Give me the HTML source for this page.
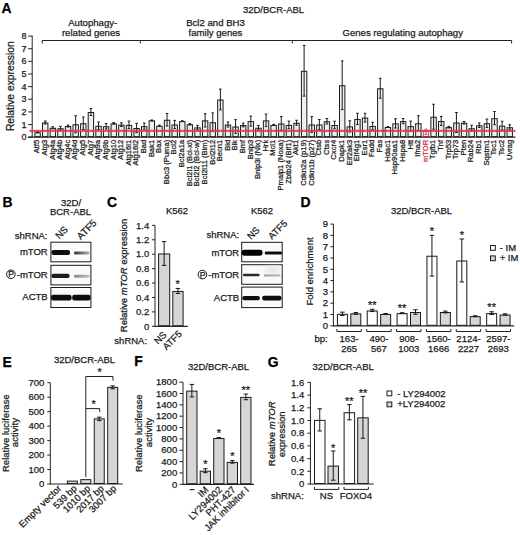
<!DOCTYPE html>
<html><head><meta charset="utf-8"><style>
html,body{margin:0;padding:0;background:#fff;}
svg{display:block;}
text{font-family:"Liberation Sans", sans-serif;stroke:currentColor;stroke-width:0.25px;paint-order:stroke;}
</style></head><body>
<svg width="520" height="535" viewBox="0 0 520 535" font-family='"Liberation Sans", sans-serif'>
<defs><linearGradient id="g0" x1="0" x2="1" y1="0" y2="0"><stop offset="0" stop-color="#333"/><stop offset="1" stop-color="#b0b0b0"/></linearGradient><linearGradient id="g1" x1="0" x2="1" y1="0" y2="0"><stop offset="0" stop-color="#888"/><stop offset="1" stop-color="#c0c0c0"/></linearGradient><linearGradient id="g2" x1="0" x2="1" y1="0" y2="0"><stop offset="0" stop-color="#999"/><stop offset="1" stop-color="#b5b5b5"/></linearGradient><filter id="bl" x="-20%" y="-100%" width="140%" height="300%"><feGaussianBlur stdDeviation="0.5"/></filter><filter id="bl2" x="-50%" y="-100%" width="200%" height="300%"><feGaussianBlur stdDeviation="2"/></filter></defs>
<rect width="520" height="535" fill="#fff"/>
<text x="1.6" y="12.8" font-size="13.9" font-weight="bold" fill="#000" color="#000">A</text>
<text x="273.5" y="13" font-size="9.5" text-anchor="middle" fill="#1a1a1a" color="#1a1a1a">32D/BCR-ABL</text>
<text x="92.7" y="25.8" font-size="9.6" text-anchor="middle" fill="#1a1a1a" color="#1a1a1a">Autophagy-</text>
<text x="91" y="35.8" font-size="9.6" text-anchor="middle" fill="#1a1a1a" color="#1a1a1a">related genes</text>
<text x="215.5" y="25.8" font-size="9.6" text-anchor="middle" fill="#1a1a1a" color="#1a1a1a">Bcl2 and BH3</text>
<text x="215.5" y="35.8" font-size="9.6" text-anchor="middle" fill="#1a1a1a" color="#1a1a1a">family genes</text>
<text x="402.7" y="35.8" font-size="9.6" text-anchor="middle" fill="#1a1a1a" color="#1a1a1a">Genes regulating autophagy</text>
<polyline points="42.2,43.5 42.2,40.5 140.3,40.5 140.3,43.5" fill="none" stroke="#222" stroke-width="1"/>
<polyline points="140.3,40.5 292.3,40.5 292.3,43.5" fill="none" stroke="#222" stroke-width="1"/>
<polyline points="292.3,40.5 511.6,40.5 511.6,43.5" fill="none" stroke="#222" stroke-width="1"/>
<line x1="32.2" y1="35.6" x2="32.2" y2="137.7" stroke="#222" stroke-width="1"/>
<line x1="28.2" y1="137.2" x2="32.2" y2="137.2" stroke="#222" stroke-width="1"/>
<text x="26.4" y="140.3" font-size="9" text-anchor="end" fill="#1a1a1a" color="#1a1a1a">0</text>
<line x1="28.2" y1="124.56" x2="32.2" y2="124.56" stroke="#222" stroke-width="1"/>
<text x="26.4" y="127.66" font-size="9" text-anchor="end" fill="#1a1a1a" color="#1a1a1a">1</text>
<line x1="28.2" y1="111.92" x2="32.2" y2="111.92" stroke="#222" stroke-width="1"/>
<text x="26.4" y="115.02" font-size="9" text-anchor="end" fill="#1a1a1a" color="#1a1a1a">2</text>
<line x1="28.2" y1="99.28" x2="32.2" y2="99.28" stroke="#222" stroke-width="1"/>
<text x="26.4" y="102.38" font-size="9" text-anchor="end" fill="#1a1a1a" color="#1a1a1a">3</text>
<line x1="28.2" y1="86.64" x2="32.2" y2="86.64" stroke="#222" stroke-width="1"/>
<text x="26.4" y="89.74" font-size="9" text-anchor="end" fill="#1a1a1a" color="#1a1a1a">4</text>
<line x1="28.2" y1="74" x2="32.2" y2="74" stroke="#222" stroke-width="1"/>
<text x="26.4" y="77.1" font-size="9" text-anchor="end" fill="#1a1a1a" color="#1a1a1a">5</text>
<line x1="28.2" y1="61.36" x2="32.2" y2="61.36" stroke="#222" stroke-width="1"/>
<text x="26.4" y="64.46" font-size="9" text-anchor="end" fill="#1a1a1a" color="#1a1a1a">6</text>
<line x1="28.2" y1="48.72" x2="32.2" y2="48.72" stroke="#222" stroke-width="1"/>
<text x="26.4" y="51.82" font-size="9" text-anchor="end" fill="#1a1a1a" color="#1a1a1a">7</text>
<line x1="28.2" y1="36.08" x2="32.2" y2="36.08" stroke="#222" stroke-width="1"/>
<text x="26.4" y="39.18" font-size="9" text-anchor="end" fill="#1a1a1a" color="#1a1a1a">8</text>
<text x="14" y="86.2" font-size="10.3" text-anchor="middle" transform="rotate(-90 14 86.2)" fill="#1a1a1a" color="#1a1a1a">Relative expression</text>
<rect x="34.9" y="132.75" width="5.4" height="3.95" fill="#efefef" stroke="#1a1a1a" stroke-width="1"/>
<line x1="37.6" y1="131.75" x2="37.6" y2="132.75" stroke="#1a1a1a" stroke-width="1"/>
<line x1="36.3" y1="131.75" x2="38.9" y2="131.75" stroke="#1a1a1a" stroke-width="1"/>
<line x1="36.3" y1="132.75" x2="38.9" y2="132.75" stroke="#1a1a1a" stroke-width="1"/>
<text x="39.4" y="139.8" font-size="7.6" text-anchor="end" transform="rotate(-90 39.4 139.8)" fill="#1a1a1a" color="#1a1a1a">Atf5</text>
<rect x="42.52" y="123" width="5.4" height="13.7" fill="#efefef" stroke="#1a1a1a" stroke-width="1"/>
<line x1="45.22" y1="121" x2="45.22" y2="124" stroke="#1a1a1a" stroke-width="1"/>
<line x1="43.92" y1="121" x2="46.52" y2="121" stroke="#1a1a1a" stroke-width="1"/>
<line x1="43.92" y1="124" x2="46.52" y2="124" stroke="#1a1a1a" stroke-width="1"/>
<text x="47.02" y="139.8" font-size="7.6" text-anchor="end" transform="rotate(-90 47.02 139.8)" fill="#1a1a1a" color="#1a1a1a">Atg3</text>
<rect x="50.13" y="128.25" width="5.4" height="8.45" fill="#efefef" stroke="#1a1a1a" stroke-width="1"/>
<line x1="52.83" y1="126.75" x2="52.83" y2="128.75" stroke="#1a1a1a" stroke-width="1"/>
<line x1="51.53" y1="126.75" x2="54.13" y2="126.75" stroke="#1a1a1a" stroke-width="1"/>
<line x1="51.53" y1="128.75" x2="54.13" y2="128.75" stroke="#1a1a1a" stroke-width="1"/>
<text x="54.63" y="139.8" font-size="7.6" text-anchor="end" transform="rotate(-90 54.63 139.8)" fill="#1a1a1a" color="#1a1a1a">Atg4a</text>
<rect x="57.74" y="128.75" width="5.4" height="7.95" fill="#efefef" stroke="#1a1a1a" stroke-width="1"/>
<line x1="60.45" y1="126.38" x2="60.45" y2="130.12" stroke="#1a1a1a" stroke-width="1"/>
<line x1="59.15" y1="126.38" x2="61.74" y2="126.38" stroke="#1a1a1a" stroke-width="1"/>
<line x1="59.15" y1="130.12" x2="61.74" y2="130.12" stroke="#1a1a1a" stroke-width="1"/>
<text x="62.24" y="139.8" font-size="7.6" text-anchor="end" transform="rotate(-90 62.24 139.8)" fill="#1a1a1a" color="#1a1a1a">Atg4b</text>
<rect x="65.36" y="126.5" width="5.4" height="10.2" fill="#efefef" stroke="#1a1a1a" stroke-width="1"/>
<line x1="68.06" y1="125" x2="68.06" y2="127" stroke="#1a1a1a" stroke-width="1"/>
<line x1="66.76" y1="125" x2="69.36" y2="125" stroke="#1a1a1a" stroke-width="1"/>
<line x1="66.76" y1="127" x2="69.36" y2="127" stroke="#1a1a1a" stroke-width="1"/>
<text x="69.86" y="139.8" font-size="7.6" text-anchor="end" transform="rotate(-90 69.86 139.8)" fill="#1a1a1a" color="#1a1a1a">Atg4c</text>
<rect x="72.97" y="124.75" width="5.4" height="11.95" fill="#efefef" stroke="#1a1a1a" stroke-width="1"/>
<line x1="75.67" y1="115.75" x2="75.67" y2="132.75" stroke="#1a1a1a" stroke-width="1"/>
<line x1="74.38" y1="115.75" x2="76.97" y2="115.75" stroke="#1a1a1a" stroke-width="1"/>
<line x1="74.38" y1="132.75" x2="76.97" y2="132.75" stroke="#1a1a1a" stroke-width="1"/>
<text x="77.47" y="139.8" font-size="7.6" text-anchor="end" transform="rotate(-90 77.47 139.8)" fill="#1a1a1a" color="#1a1a1a">Atg4d</text>
<rect x="80.59" y="123.75" width="5.4" height="12.95" fill="#efefef" stroke="#1a1a1a" stroke-width="1"/>
<line x1="83.29" y1="117" x2="83.29" y2="129.5" stroke="#1a1a1a" stroke-width="1"/>
<line x1="81.99" y1="117" x2="84.59" y2="117" stroke="#1a1a1a" stroke-width="1"/>
<line x1="81.99" y1="129.5" x2="84.59" y2="129.5" stroke="#1a1a1a" stroke-width="1"/>
<text x="85.09" y="139.8" font-size="7.6" text-anchor="end" transform="rotate(-90 85.09 139.8)" fill="#1a1a1a" color="#1a1a1a">Atg5</text>
<rect x="88.2" y="112.5" width="5.4" height="24.2" fill="#efefef" stroke="#1a1a1a" stroke-width="1"/>
<line x1="90.91" y1="108.5" x2="90.91" y2="115.5" stroke="#1a1a1a" stroke-width="1"/>
<line x1="89.61" y1="108.5" x2="92.2" y2="108.5" stroke="#1a1a1a" stroke-width="1"/>
<line x1="89.61" y1="115.5" x2="92.2" y2="115.5" stroke="#1a1a1a" stroke-width="1"/>
<text x="92.7" y="139.8" font-size="7.6" text-anchor="end" transform="rotate(-90 92.7 139.8)" fill="#1a1a1a" color="#1a1a1a">Atg7</text>
<rect x="95.82" y="126.25" width="5.4" height="10.45" fill="#efefef" stroke="#1a1a1a" stroke-width="1"/>
<line x1="98.52" y1="122" x2="98.52" y2="129.5" stroke="#1a1a1a" stroke-width="1"/>
<line x1="97.22" y1="122" x2="99.82" y2="122" stroke="#1a1a1a" stroke-width="1"/>
<line x1="97.22" y1="129.5" x2="99.82" y2="129.5" stroke="#1a1a1a" stroke-width="1"/>
<text x="100.32" y="139.8" font-size="7.6" text-anchor="end" transform="rotate(-90 100.32 139.8)" fill="#1a1a1a" color="#1a1a1a">Atg9a</text>
<rect x="103.44" y="126.75" width="5.4" height="9.95" fill="#efefef" stroke="#1a1a1a" stroke-width="1"/>
<line x1="106.14" y1="123.5" x2="106.14" y2="129" stroke="#1a1a1a" stroke-width="1"/>
<line x1="104.84" y1="123.5" x2="107.44" y2="123.5" stroke="#1a1a1a" stroke-width="1"/>
<line x1="104.84" y1="129" x2="107.44" y2="129" stroke="#1a1a1a" stroke-width="1"/>
<text x="107.94" y="139.8" font-size="7.6" text-anchor="end" transform="rotate(-90 107.94 139.8)" fill="#1a1a1a" color="#1a1a1a">Atg9b</text>
<rect x="111.05" y="123.88" width="5.4" height="12.82" fill="#efefef" stroke="#1a1a1a" stroke-width="1"/>
<line x1="113.75" y1="122.62" x2="113.75" y2="124.12" stroke="#1a1a1a" stroke-width="1"/>
<line x1="112.45" y1="122.62" x2="115.05" y2="122.62" stroke="#1a1a1a" stroke-width="1"/>
<line x1="112.45" y1="124.12" x2="115.05" y2="124.12" stroke="#1a1a1a" stroke-width="1"/>
<text x="115.55" y="139.8" font-size="7.6" text-anchor="end" transform="rotate(-90 115.55 139.8)" fill="#1a1a1a" color="#1a1a1a">Atg10</text>
<rect x="118.66" y="125.12" width="5.4" height="11.57" fill="#efefef" stroke="#1a1a1a" stroke-width="1"/>
<line x1="121.36" y1="122.75" x2="121.36" y2="126.5" stroke="#1a1a1a" stroke-width="1"/>
<line x1="120.06" y1="122.75" x2="122.66" y2="122.75" stroke="#1a1a1a" stroke-width="1"/>
<line x1="120.06" y1="126.5" x2="122.66" y2="126.5" stroke="#1a1a1a" stroke-width="1"/>
<text x="123.16" y="139.8" font-size="7.6" text-anchor="end" transform="rotate(-90 123.16 139.8)" fill="#1a1a1a" color="#1a1a1a">Atg12</text>
<rect x="126.28" y="125.38" width="5.4" height="11.32" fill="#efefef" stroke="#1a1a1a" stroke-width="1"/>
<line x1="128.98" y1="121.12" x2="128.98" y2="128.62" stroke="#1a1a1a" stroke-width="1"/>
<line x1="127.68" y1="121.12" x2="130.28" y2="121.12" stroke="#1a1a1a" stroke-width="1"/>
<line x1="127.68" y1="128.62" x2="130.28" y2="128.62" stroke="#1a1a1a" stroke-width="1"/>
<text x="130.78" y="139.8" font-size="7.6" text-anchor="end" transform="rotate(-90 130.78 139.8)" fill="#1a1a1a" color="#1a1a1a">Atg16l1</text>
<rect x="133.9" y="128.5" width="5.4" height="8.2" fill="#efefef" stroke="#1a1a1a" stroke-width="1"/>
<line x1="136.59" y1="123.38" x2="136.59" y2="132.62" stroke="#1a1a1a" stroke-width="1"/>
<line x1="135.29" y1="123.38" x2="137.9" y2="123.38" stroke="#1a1a1a" stroke-width="1"/>
<line x1="135.29" y1="132.62" x2="137.9" y2="132.62" stroke="#1a1a1a" stroke-width="1"/>
<text x="138.4" y="139.8" font-size="7.6" text-anchor="end" transform="rotate(-90 138.4 139.8)" fill="#1a1a1a" color="#1a1a1a">Atg16l2</text>
<rect x="141.51" y="126.62" width="5.4" height="10.07" fill="#efefef" stroke="#1a1a1a" stroke-width="1"/>
<line x1="144.21" y1="123" x2="144.21" y2="129.25" stroke="#1a1a1a" stroke-width="1"/>
<line x1="142.91" y1="123" x2="145.51" y2="123" stroke="#1a1a1a" stroke-width="1"/>
<line x1="142.91" y1="129.25" x2="145.51" y2="129.25" stroke="#1a1a1a" stroke-width="1"/>
<text x="146.01" y="139.8" font-size="7.6" text-anchor="end" transform="rotate(-90 146.01 139.8)" fill="#1a1a1a" color="#1a1a1a">Bad</text>
<rect x="149.12" y="120.88" width="5.4" height="15.82" fill="#efefef" stroke="#1a1a1a" stroke-width="1"/>
<line x1="151.82" y1="120" x2="151.82" y2="120.75" stroke="#1a1a1a" stroke-width="1"/>
<line x1="150.52" y1="120" x2="153.12" y2="120" stroke="#1a1a1a" stroke-width="1"/>
<line x1="150.52" y1="120.75" x2="153.12" y2="120.75" stroke="#1a1a1a" stroke-width="1"/>
<text x="153.62" y="139.8" font-size="7.6" text-anchor="end" transform="rotate(-90 153.62 139.8)" fill="#1a1a1a" color="#1a1a1a">Bak1</text>
<rect x="156.74" y="126.25" width="5.4" height="10.45" fill="#efefef" stroke="#1a1a1a" stroke-width="1"/>
<line x1="159.44" y1="125.12" x2="159.44" y2="126.38" stroke="#1a1a1a" stroke-width="1"/>
<line x1="158.14" y1="125.12" x2="160.74" y2="125.12" stroke="#1a1a1a" stroke-width="1"/>
<line x1="158.14" y1="126.38" x2="160.74" y2="126.38" stroke="#1a1a1a" stroke-width="1"/>
<text x="161.24" y="139.8" font-size="7.6" text-anchor="end" transform="rotate(-90 161.24 139.8)" fill="#1a1a1a" color="#1a1a1a">Bax</text>
<rect x="164.36" y="120.25" width="5.4" height="16.45" fill="#efefef" stroke="#1a1a1a" stroke-width="1"/>
<line x1="167.06" y1="113.5" x2="167.06" y2="126" stroke="#1a1a1a" stroke-width="1"/>
<line x1="165.75" y1="113.5" x2="168.36" y2="113.5" stroke="#1a1a1a" stroke-width="1"/>
<line x1="165.75" y1="126" x2="168.36" y2="126" stroke="#1a1a1a" stroke-width="1"/>
<text x="168.86" y="139.8" font-size="7.6" text-anchor="end" transform="rotate(-90 168.86 139.8)" fill="#1a1a1a" color="#1a1a1a">Bbc3 (Puma)</text>
<rect x="171.97" y="125" width="5.4" height="11.7" fill="#efefef" stroke="#1a1a1a" stroke-width="1"/>
<line x1="174.67" y1="120.38" x2="174.67" y2="128.62" stroke="#1a1a1a" stroke-width="1"/>
<line x1="173.37" y1="120.38" x2="175.97" y2="120.38" stroke="#1a1a1a" stroke-width="1"/>
<line x1="173.37" y1="128.62" x2="175.97" y2="128.62" stroke="#1a1a1a" stroke-width="1"/>
<text x="176.47" y="139.8" font-size="7.6" text-anchor="end" transform="rotate(-90 176.47 139.8)" fill="#1a1a1a" color="#1a1a1a">Bcl2</text>
<rect x="179.59" y="121.62" width="5.4" height="15.07" fill="#efefef" stroke="#1a1a1a" stroke-width="1"/>
<line x1="182.28" y1="120.75" x2="182.28" y2="121.5" stroke="#1a1a1a" stroke-width="1"/>
<line x1="180.98" y1="120.75" x2="183.59" y2="120.75" stroke="#1a1a1a" stroke-width="1"/>
<line x1="180.98" y1="121.5" x2="183.59" y2="121.5" stroke="#1a1a1a" stroke-width="1"/>
<text x="184.09" y="139.8" font-size="7.6" text-anchor="end" transform="rotate(-90 184.09 139.8)" fill="#1a1a1a" color="#1a1a1a">Bcl2a1a</text>
<rect x="187.2" y="124.75" width="5.4" height="11.95" fill="#efefef" stroke="#1a1a1a" stroke-width="1"/>
<line x1="189.9" y1="123.62" x2="189.9" y2="124.88" stroke="#1a1a1a" stroke-width="1"/>
<line x1="188.6" y1="123.62" x2="191.2" y2="123.62" stroke="#1a1a1a" stroke-width="1"/>
<line x1="188.6" y1="124.88" x2="191.2" y2="124.88" stroke="#1a1a1a" stroke-width="1"/>
<text x="191.7" y="139.8" font-size="7.6" text-anchor="end" transform="rotate(-90 191.7 139.8)" fill="#1a1a1a" color="#1a1a1a">Bcl2l1 (Bcl-xl)</text>
<rect x="194.81" y="127.88" width="5.4" height="8.82" fill="#efefef" stroke="#1a1a1a" stroke-width="1"/>
<line x1="197.51" y1="125.38" x2="197.51" y2="129.38" stroke="#1a1a1a" stroke-width="1"/>
<line x1="196.21" y1="125.38" x2="198.81" y2="125.38" stroke="#1a1a1a" stroke-width="1"/>
<line x1="196.21" y1="129.38" x2="198.81" y2="129.38" stroke="#1a1a1a" stroke-width="1"/>
<text x="199.31" y="139.8" font-size="7.6" text-anchor="end" transform="rotate(-90 199.31 139.8)" fill="#1a1a1a" color="#1a1a1a">Bcl2l2 (Bcl-w)</text>
<rect x="202.43" y="120.88" width="5.4" height="15.82" fill="#efefef" stroke="#1a1a1a" stroke-width="1"/>
<line x1="205.13" y1="113.75" x2="205.13" y2="127" stroke="#1a1a1a" stroke-width="1"/>
<line x1="203.83" y1="113.75" x2="206.43" y2="113.75" stroke="#1a1a1a" stroke-width="1"/>
<line x1="203.83" y1="127" x2="206.43" y2="127" stroke="#1a1a1a" stroke-width="1"/>
<text x="206.93" y="139.8" font-size="7.6" text-anchor="end" transform="rotate(-90 206.93 139.8)" fill="#1a1a1a" color="#1a1a1a">Bcl2l11 (Bim)</text>
<rect x="210.05" y="122.75" width="5.4" height="13.95" fill="#efefef" stroke="#1a1a1a" stroke-width="1"/>
<line x1="212.75" y1="112.88" x2="212.75" y2="131.62" stroke="#1a1a1a" stroke-width="1"/>
<line x1="211.44" y1="112.88" x2="214.05" y2="112.88" stroke="#1a1a1a" stroke-width="1"/>
<line x1="211.44" y1="131.62" x2="214.05" y2="131.62" stroke="#1a1a1a" stroke-width="1"/>
<text x="214.55" y="139.8" font-size="7.6" text-anchor="end" transform="rotate(-90 214.55 139.8)" fill="#1a1a1a" color="#1a1a1a">Bcl2l12</text>
<rect x="217.66" y="100" width="5.4" height="36.7" fill="#efefef" stroke="#1a1a1a" stroke-width="1"/>
<line x1="220.36" y1="89.12" x2="220.36" y2="109.88" stroke="#1a1a1a" stroke-width="1"/>
<line x1="219.06" y1="89.12" x2="221.66" y2="89.12" stroke="#1a1a1a" stroke-width="1"/>
<line x1="219.06" y1="109.88" x2="221.66" y2="109.88" stroke="#1a1a1a" stroke-width="1"/>
<text x="222.16" y="139.8" font-size="7.6" text-anchor="end" transform="rotate(-90 222.16 139.8)" fill="#1a1a1a" color="#1a1a1a">Becn1</text>
<rect x="225.28" y="125" width="5.4" height="11.7" fill="#efefef" stroke="#1a1a1a" stroke-width="1"/>
<line x1="227.97" y1="122" x2="227.97" y2="127" stroke="#1a1a1a" stroke-width="1"/>
<line x1="226.67" y1="122" x2="229.28" y2="122" stroke="#1a1a1a" stroke-width="1"/>
<line x1="226.67" y1="127" x2="229.28" y2="127" stroke="#1a1a1a" stroke-width="1"/>
<text x="229.78" y="139.8" font-size="7.6" text-anchor="end" transform="rotate(-90 229.78 139.8)" fill="#1a1a1a" color="#1a1a1a">Bid</text>
<rect x="232.89" y="127" width="5.4" height="9.7" fill="#efefef" stroke="#1a1a1a" stroke-width="1"/>
<line x1="235.59" y1="119.62" x2="235.59" y2="133.38" stroke="#1a1a1a" stroke-width="1"/>
<line x1="234.29" y1="119.62" x2="236.89" y2="119.62" stroke="#1a1a1a" stroke-width="1"/>
<line x1="234.29" y1="133.38" x2="236.89" y2="133.38" stroke="#1a1a1a" stroke-width="1"/>
<text x="237.39" y="139.8" font-size="7.6" text-anchor="end" transform="rotate(-90 237.39 139.8)" fill="#1a1a1a" color="#1a1a1a">Bik</text>
<rect x="240.51" y="125.5" width="5.4" height="11.2" fill="#efefef" stroke="#1a1a1a" stroke-width="1"/>
<line x1="243.21" y1="123.12" x2="243.21" y2="126.88" stroke="#1a1a1a" stroke-width="1"/>
<line x1="241.91" y1="123.12" x2="244.51" y2="123.12" stroke="#1a1a1a" stroke-width="1"/>
<line x1="241.91" y1="126.88" x2="244.51" y2="126.88" stroke="#1a1a1a" stroke-width="1"/>
<text x="245.01" y="139.8" font-size="7.6" text-anchor="end" transform="rotate(-90 245.01 139.8)" fill="#1a1a1a" color="#1a1a1a">Bmf</text>
<rect x="248.12" y="121.62" width="5.4" height="15.07" fill="#efefef" stroke="#1a1a1a" stroke-width="1"/>
<line x1="250.82" y1="116.12" x2="250.82" y2="126.12" stroke="#1a1a1a" stroke-width="1"/>
<line x1="249.52" y1="116.12" x2="252.12" y2="116.12" stroke="#1a1a1a" stroke-width="1"/>
<line x1="249.52" y1="126.12" x2="252.12" y2="126.12" stroke="#1a1a1a" stroke-width="1"/>
<text x="252.62" y="139.8" font-size="7.6" text-anchor="end" transform="rotate(-90 252.62 139.8)" fill="#1a1a1a" color="#1a1a1a">Bnip3</text>
<rect x="255.74" y="128.25" width="5.4" height="8.45" fill="#efefef" stroke="#1a1a1a" stroke-width="1"/>
<line x1="258.44" y1="125.5" x2="258.44" y2="130" stroke="#1a1a1a" stroke-width="1"/>
<line x1="257.13" y1="125.5" x2="259.74" y2="125.5" stroke="#1a1a1a" stroke-width="1"/>
<line x1="257.13" y1="130" x2="259.74" y2="130" stroke="#1a1a1a" stroke-width="1"/>
<text x="260.24" y="139.8" font-size="7.6" text-anchor="end" transform="rotate(-90 260.24 139.8)" fill="#1a1a1a" color="#1a1a1a">Bnip3l (Nix)</text>
<rect x="263.35" y="120.88" width="5.4" height="15.82" fill="#efefef" stroke="#1a1a1a" stroke-width="1"/>
<line x1="266.05" y1="114.12" x2="266.05" y2="126.62" stroke="#1a1a1a" stroke-width="1"/>
<line x1="264.75" y1="114.12" x2="267.35" y2="114.12" stroke="#1a1a1a" stroke-width="1"/>
<line x1="264.75" y1="126.62" x2="267.35" y2="126.62" stroke="#1a1a1a" stroke-width="1"/>
<text x="267.85" y="139.8" font-size="7.6" text-anchor="end" transform="rotate(-90 267.85 139.8)" fill="#1a1a1a" color="#1a1a1a">Hrk</text>
<rect x="270.96" y="125.38" width="5.4" height="11.32" fill="#efefef" stroke="#1a1a1a" stroke-width="1"/>
<line x1="273.66" y1="124.38" x2="273.66" y2="125.38" stroke="#1a1a1a" stroke-width="1"/>
<line x1="272.36" y1="124.38" x2="274.96" y2="124.38" stroke="#1a1a1a" stroke-width="1"/>
<line x1="272.36" y1="125.38" x2="274.96" y2="125.38" stroke="#1a1a1a" stroke-width="1"/>
<text x="275.46" y="139.8" font-size="7.6" text-anchor="end" transform="rotate(-90 275.46 139.8)" fill="#1a1a1a" color="#1a1a1a">Mcl1</text>
<rect x="278.58" y="124" width="5.4" height="12.7" fill="#efefef" stroke="#1a1a1a" stroke-width="1"/>
<line x1="281.28" y1="116.62" x2="281.28" y2="130.38" stroke="#1a1a1a" stroke-width="1"/>
<line x1="279.98" y1="116.62" x2="282.58" y2="116.62" stroke="#1a1a1a" stroke-width="1"/>
<line x1="279.98" y1="130.38" x2="282.58" y2="130.38" stroke="#1a1a1a" stroke-width="1"/>
<text x="283.08" y="139.8" font-size="7.6" text-anchor="end" transform="rotate(-90 283.08 139.8)" fill="#1a1a1a" color="#1a1a1a">Pmaip1 (Noxa)</text>
<rect x="286.19" y="125.38" width="5.4" height="11.32" fill="#efefef" stroke="#1a1a1a" stroke-width="1"/>
<line x1="288.89" y1="121.12" x2="288.89" y2="128.62" stroke="#1a1a1a" stroke-width="1"/>
<line x1="287.59" y1="121.12" x2="290.19" y2="121.12" stroke="#1a1a1a" stroke-width="1"/>
<line x1="287.59" y1="128.62" x2="290.19" y2="128.62" stroke="#1a1a1a" stroke-width="1"/>
<text x="290.69" y="139.8" font-size="7.6" text-anchor="end" transform="rotate(-90 290.69 139.8)" fill="#1a1a1a" color="#1a1a1a">Zbtb24 (Bif1)</text>
<rect x="293.81" y="123.25" width="5.4" height="13.45" fill="#efefef" stroke="#1a1a1a" stroke-width="1"/>
<line x1="296.51" y1="120.25" x2="296.51" y2="125.25" stroke="#1a1a1a" stroke-width="1"/>
<line x1="295.21" y1="120.25" x2="297.81" y2="120.25" stroke="#1a1a1a" stroke-width="1"/>
<line x1="295.21" y1="125.25" x2="297.81" y2="125.25" stroke="#1a1a1a" stroke-width="1"/>
<text x="298.31" y="139.8" font-size="7.6" text-anchor="end" transform="rotate(-90 298.31 139.8)" fill="#1a1a1a" color="#1a1a1a">Akt1</text>
<rect x="301.43" y="71.25" width="5.4" height="65.45" fill="#efefef" stroke="#1a1a1a" stroke-width="1"/>
<line x1="304.12" y1="45.38" x2="304.12" y2="96.12" stroke="#1a1a1a" stroke-width="1"/>
<line x1="302.82" y1="45.38" x2="305.43" y2="45.38" stroke="#1a1a1a" stroke-width="1"/>
<line x1="302.82" y1="96.12" x2="305.43" y2="96.12" stroke="#1a1a1a" stroke-width="1"/>
<text x="305.93" y="139.8" font-size="7.6" text-anchor="end" transform="rotate(-90 305.93 139.8)" fill="#1a1a1a" color="#1a1a1a">Cdkn2a (p19)</text>
<rect x="309.04" y="125" width="5.4" height="11.7" fill="#efefef" stroke="#1a1a1a" stroke-width="1"/>
<line x1="311.74" y1="116.62" x2="311.74" y2="132.38" stroke="#1a1a1a" stroke-width="1"/>
<line x1="310.44" y1="116.62" x2="313.04" y2="116.62" stroke="#1a1a1a" stroke-width="1"/>
<line x1="310.44" y1="132.38" x2="313.04" y2="132.38" stroke="#1a1a1a" stroke-width="1"/>
<text x="313.54" y="139.8" font-size="7.6" text-anchor="end" transform="rotate(-90 313.54 139.8)" fill="#1a1a1a" color="#1a1a1a">Cdkn1b (p27)</text>
<rect x="316.65" y="125" width="5.4" height="11.7" fill="#efefef" stroke="#1a1a1a" stroke-width="1"/>
<line x1="319.35" y1="119.5" x2="319.35" y2="129.5" stroke="#1a1a1a" stroke-width="1"/>
<line x1="318.05" y1="119.5" x2="320.65" y2="119.5" stroke="#1a1a1a" stroke-width="1"/>
<line x1="318.05" y1="129.5" x2="320.65" y2="129.5" stroke="#1a1a1a" stroke-width="1"/>
<text x="321.15" y="139.8" font-size="7.6" text-anchor="end" transform="rotate(-90 321.15 139.8)" fill="#1a1a1a" color="#1a1a1a">Ctsb</text>
<rect x="324.27" y="121.75" width="5.4" height="14.95" fill="#efefef" stroke="#1a1a1a" stroke-width="1"/>
<line x1="326.97" y1="118.5" x2="326.97" y2="124" stroke="#1a1a1a" stroke-width="1"/>
<line x1="325.67" y1="118.5" x2="328.27" y2="118.5" stroke="#1a1a1a" stroke-width="1"/>
<line x1="325.67" y1="124" x2="328.27" y2="124" stroke="#1a1a1a" stroke-width="1"/>
<text x="328.77" y="139.8" font-size="7.6" text-anchor="end" transform="rotate(-90 328.77 139.8)" fill="#1a1a1a" color="#1a1a1a">Ctss</text>
<rect x="331.88" y="125.5" width="5.4" height="11.2" fill="#efefef" stroke="#1a1a1a" stroke-width="1"/>
<line x1="334.58" y1="121.25" x2="334.58" y2="128.75" stroke="#1a1a1a" stroke-width="1"/>
<line x1="333.28" y1="121.25" x2="335.88" y2="121.25" stroke="#1a1a1a" stroke-width="1"/>
<line x1="333.28" y1="128.75" x2="335.88" y2="128.75" stroke="#1a1a1a" stroke-width="1"/>
<text x="336.38" y="139.8" font-size="7.6" text-anchor="end" transform="rotate(-90 336.38 139.8)" fill="#1a1a1a" color="#1a1a1a">Cxcr4</text>
<rect x="339.5" y="85.75" width="5.4" height="50.95" fill="#efefef" stroke="#1a1a1a" stroke-width="1"/>
<line x1="342.2" y1="60.88" x2="342.2" y2="109.62" stroke="#1a1a1a" stroke-width="1"/>
<line x1="340.9" y1="60.88" x2="343.5" y2="60.88" stroke="#1a1a1a" stroke-width="1"/>
<line x1="340.9" y1="109.62" x2="343.5" y2="109.62" stroke="#1a1a1a" stroke-width="1"/>
<text x="344" y="139.8" font-size="7.6" text-anchor="end" transform="rotate(-90 344 139.8)" fill="#1a1a1a" color="#1a1a1a">Dapk1</text>
<rect x="347.12" y="126.88" width="5.4" height="9.82" fill="#efefef" stroke="#1a1a1a" stroke-width="1"/>
<line x1="349.81" y1="120.75" x2="349.81" y2="132" stroke="#1a1a1a" stroke-width="1"/>
<line x1="348.51" y1="120.75" x2="351.12" y2="120.75" stroke="#1a1a1a" stroke-width="1"/>
<line x1="348.51" y1="132" x2="351.12" y2="132" stroke="#1a1a1a" stroke-width="1"/>
<text x="351.62" y="139.8" font-size="7.6" text-anchor="end" transform="rotate(-90 351.62 139.8)" fill="#1a1a1a" color="#1a1a1a">Eif2ak3</text>
<rect x="354.73" y="119.38" width="5.4" height="17.32" fill="#efefef" stroke="#1a1a1a" stroke-width="1"/>
<line x1="357.43" y1="113.25" x2="357.43" y2="124.5" stroke="#1a1a1a" stroke-width="1"/>
<line x1="356.13" y1="113.25" x2="358.73" y2="113.25" stroke="#1a1a1a" stroke-width="1"/>
<line x1="356.13" y1="124.5" x2="358.73" y2="124.5" stroke="#1a1a1a" stroke-width="1"/>
<text x="359.23" y="139.8" font-size="7.6" text-anchor="end" transform="rotate(-90 359.23 139.8)" fill="#1a1a1a" color="#1a1a1a">Eif4g1</text>
<rect x="362.34" y="118.12" width="5.4" height="18.57" fill="#efefef" stroke="#1a1a1a" stroke-width="1"/>
<line x1="365.04" y1="113.25" x2="365.04" y2="122" stroke="#1a1a1a" stroke-width="1"/>
<line x1="363.74" y1="113.25" x2="366.34" y2="113.25" stroke="#1a1a1a" stroke-width="1"/>
<line x1="363.74" y1="122" x2="366.34" y2="122" stroke="#1a1a1a" stroke-width="1"/>
<text x="366.84" y="139.8" font-size="7.6" text-anchor="end" transform="rotate(-90 366.84 139.8)" fill="#1a1a1a" color="#1a1a1a">Esr1</text>
<rect x="369.96" y="126.5" width="5.4" height="10.2" fill="#efefef" stroke="#1a1a1a" stroke-width="1"/>
<line x1="372.66" y1="122.25" x2="372.66" y2="129.75" stroke="#1a1a1a" stroke-width="1"/>
<line x1="371.36" y1="122.25" x2="373.96" y2="122.25" stroke="#1a1a1a" stroke-width="1"/>
<line x1="371.36" y1="129.75" x2="373.96" y2="129.75" stroke="#1a1a1a" stroke-width="1"/>
<text x="374.46" y="139.8" font-size="7.6" text-anchor="end" transform="rotate(-90 374.46 139.8)" fill="#1a1a1a" color="#1a1a1a">Fadd</text>
<rect x="377.57" y="88.75" width="5.4" height="47.95" fill="#efefef" stroke="#1a1a1a" stroke-width="1"/>
<line x1="380.27" y1="78.25" x2="380.27" y2="98.25" stroke="#1a1a1a" stroke-width="1"/>
<line x1="378.97" y1="78.25" x2="381.57" y2="78.25" stroke="#1a1a1a" stroke-width="1"/>
<line x1="378.97" y1="98.25" x2="381.57" y2="98.25" stroke="#1a1a1a" stroke-width="1"/>
<text x="382.07" y="139.8" font-size="7.6" text-anchor="end" transform="rotate(-90 382.07 139.8)" fill="#1a1a1a" color="#1a1a1a">Fas</text>
<rect x="385.19" y="127.5" width="5.4" height="9.2" fill="#efefef" stroke="#1a1a1a" stroke-width="1"/>
<line x1="387.89" y1="126.62" x2="387.89" y2="127.38" stroke="#1a1a1a" stroke-width="1"/>
<line x1="386.59" y1="126.62" x2="389.19" y2="126.62" stroke="#1a1a1a" stroke-width="1"/>
<line x1="386.59" y1="127.38" x2="389.19" y2="127.38" stroke="#1a1a1a" stroke-width="1"/>
<text x="389.69" y="139.8" font-size="7.6" text-anchor="end" transform="rotate(-90 389.69 139.8)" fill="#1a1a1a" color="#1a1a1a">Hdac1</text>
<rect x="392.81" y="123.88" width="5.4" height="12.82" fill="#efefef" stroke="#1a1a1a" stroke-width="1"/>
<line x1="395.5" y1="118.75" x2="395.5" y2="128" stroke="#1a1a1a" stroke-width="1"/>
<line x1="394.2" y1="118.75" x2="396.81" y2="118.75" stroke="#1a1a1a" stroke-width="1"/>
<line x1="394.2" y1="128" x2="396.81" y2="128" stroke="#1a1a1a" stroke-width="1"/>
<text x="397.31" y="139.8" font-size="7.6" text-anchor="end" transform="rotate(-90 397.31 139.8)" fill="#1a1a1a" color="#1a1a1a">Hsp90aa1</text>
<rect x="400.42" y="121.62" width="5.4" height="15.07" fill="#efefef" stroke="#1a1a1a" stroke-width="1"/>
<line x1="403.12" y1="118.5" x2="403.12" y2="123.75" stroke="#1a1a1a" stroke-width="1"/>
<line x1="401.82" y1="118.5" x2="404.42" y2="118.5" stroke="#1a1a1a" stroke-width="1"/>
<line x1="401.82" y1="123.75" x2="404.42" y2="123.75" stroke="#1a1a1a" stroke-width="1"/>
<text x="404.92" y="139.8" font-size="7.6" text-anchor="end" transform="rotate(-90 404.92 139.8)" fill="#1a1a1a" color="#1a1a1a">Hspa8</text>
<rect x="408.03" y="126.62" width="5.4" height="10.07" fill="#efefef" stroke="#1a1a1a" stroke-width="1"/>
<line x1="410.73" y1="121.12" x2="410.73" y2="131.12" stroke="#1a1a1a" stroke-width="1"/>
<line x1="409.43" y1="121.12" x2="412.03" y2="121.12" stroke="#1a1a1a" stroke-width="1"/>
<line x1="409.43" y1="131.12" x2="412.03" y2="131.12" stroke="#1a1a1a" stroke-width="1"/>
<text x="412.53" y="139.8" font-size="7.6" text-anchor="end" transform="rotate(-90 412.53 139.8)" fill="#1a1a1a" color="#1a1a1a">Htt</text>
<rect x="415.65" y="123.75" width="5.4" height="12.95" fill="#efefef" stroke="#1a1a1a" stroke-width="1"/>
<line x1="418.35" y1="115.75" x2="418.35" y2="130.75" stroke="#1a1a1a" stroke-width="1"/>
<line x1="417.05" y1="115.75" x2="419.65" y2="115.75" stroke="#1a1a1a" stroke-width="1"/>
<line x1="417.05" y1="130.75" x2="419.65" y2="130.75" stroke="#1a1a1a" stroke-width="1"/>
<text x="420.15" y="139.8" font-size="7.6" text-anchor="end" transform="rotate(-90 420.15 139.8)" fill="#1a1a1a" color="#1a1a1a">Ifna2</text>
<rect x="423.26" y="131" width="5.4" height="5.7" fill="#efefef" stroke="#d83a55" stroke-width="1"/>
<line x1="425.96" y1="129.2" x2="425.96" y2="134.5" stroke="#d83a55" stroke-width="1"/>
<line x1="424.66" y1="129.2" x2="427.26" y2="129.2" stroke="#d83a55" stroke-width="1"/>
<line x1="424.66" y1="134.5" x2="427.26" y2="134.5" stroke="#d83a55" stroke-width="1"/>
<text x="427.76" y="139.8" font-size="7.6" text-anchor="end" transform="rotate(-90 427.76 139.8)" fill="#d4304a" color="#d4304a">mTOR</text>
<rect x="430.88" y="117.25" width="5.4" height="19.45" fill="#efefef" stroke="#1a1a1a" stroke-width="1"/>
<line x1="433.58" y1="104.25" x2="433.58" y2="129.25" stroke="#1a1a1a" stroke-width="1"/>
<line x1="432.28" y1="104.25" x2="434.88" y2="104.25" stroke="#1a1a1a" stroke-width="1"/>
<line x1="432.28" y1="129.25" x2="434.88" y2="129.25" stroke="#1a1a1a" stroke-width="1"/>
<text x="435.38" y="139.8" font-size="7.6" text-anchor="end" transform="rotate(-90 435.38 139.8)" fill="#1a1a1a" color="#1a1a1a">Tgfb1</text>
<rect x="438.5" y="121.5" width="5.4" height="15.2" fill="#efefef" stroke="#1a1a1a" stroke-width="1"/>
<line x1="441.19" y1="116.38" x2="441.19" y2="125.62" stroke="#1a1a1a" stroke-width="1"/>
<line x1="439.89" y1="116.38" x2="442.5" y2="116.38" stroke="#1a1a1a" stroke-width="1"/>
<line x1="439.89" y1="125.62" x2="442.5" y2="125.62" stroke="#1a1a1a" stroke-width="1"/>
<text x="443" y="139.8" font-size="7.6" text-anchor="end" transform="rotate(-90 443 139.8)" fill="#1a1a1a" color="#1a1a1a">Tnf</text>
<rect x="446.11" y="127.62" width="5.4" height="9.07" fill="#efefef" stroke="#1a1a1a" stroke-width="1"/>
<line x1="448.81" y1="126.38" x2="448.81" y2="127.88" stroke="#1a1a1a" stroke-width="1"/>
<line x1="447.51" y1="126.38" x2="450.11" y2="126.38" stroke="#1a1a1a" stroke-width="1"/>
<line x1="447.51" y1="127.88" x2="450.11" y2="127.88" stroke="#1a1a1a" stroke-width="1"/>
<text x="450.61" y="139.8" font-size="7.6" text-anchor="end" transform="rotate(-90 450.61 139.8)" fill="#1a1a1a" color="#1a1a1a">Trp53</text>
<rect x="453.72" y="123" width="5.4" height="13.7" fill="#efefef" stroke="#1a1a1a" stroke-width="1"/>
<line x1="456.42" y1="112.5" x2="456.42" y2="132.5" stroke="#1a1a1a" stroke-width="1"/>
<line x1="455.12" y1="112.5" x2="457.72" y2="112.5" stroke="#1a1a1a" stroke-width="1"/>
<line x1="455.12" y1="132.5" x2="457.72" y2="132.5" stroke="#1a1a1a" stroke-width="1"/>
<text x="458.22" y="139.8" font-size="7.6" text-anchor="end" transform="rotate(-90 458.22 139.8)" fill="#1a1a1a" color="#1a1a1a">Trp73</text>
<rect x="461.34" y="123.25" width="5.4" height="13.45" fill="#efefef" stroke="#1a1a1a" stroke-width="1"/>
<line x1="464.04" y1="121.5" x2="464.04" y2="124" stroke="#1a1a1a" stroke-width="1"/>
<line x1="462.74" y1="121.5" x2="465.34" y2="121.5" stroke="#1a1a1a" stroke-width="1"/>
<line x1="462.74" y1="124" x2="465.34" y2="124" stroke="#1a1a1a" stroke-width="1"/>
<text x="465.84" y="139.8" font-size="7.6" text-anchor="end" transform="rotate(-90 465.84 139.8)" fill="#1a1a1a" color="#1a1a1a">Pten</text>
<rect x="468.95" y="128.75" width="5.4" height="7.95" fill="#efefef" stroke="#1a1a1a" stroke-width="1"/>
<line x1="471.65" y1="125.25" x2="471.65" y2="131.25" stroke="#1a1a1a" stroke-width="1"/>
<line x1="470.35" y1="125.25" x2="472.95" y2="125.25" stroke="#1a1a1a" stroke-width="1"/>
<line x1="470.35" y1="131.25" x2="472.95" y2="131.25" stroke="#1a1a1a" stroke-width="1"/>
<text x="473.45" y="139.8" font-size="7.6" text-anchor="end" transform="rotate(-90 473.45 139.8)" fill="#1a1a1a" color="#1a1a1a">Rab24</text>
<rect x="476.57" y="125.75" width="5.4" height="10.95" fill="#efefef" stroke="#1a1a1a" stroke-width="1"/>
<line x1="479.27" y1="123" x2="479.27" y2="127.5" stroke="#1a1a1a" stroke-width="1"/>
<line x1="477.97" y1="123" x2="480.57" y2="123" stroke="#1a1a1a" stroke-width="1"/>
<line x1="477.97" y1="127.5" x2="480.57" y2="127.5" stroke="#1a1a1a" stroke-width="1"/>
<text x="481.07" y="139.8" font-size="7.6" text-anchor="end" transform="rotate(-90 481.07 139.8)" fill="#1a1a1a" color="#1a1a1a">Rb1</text>
<rect x="484.19" y="123.75" width="5.4" height="12.95" fill="#efefef" stroke="#1a1a1a" stroke-width="1"/>
<line x1="486.88" y1="119.12" x2="486.88" y2="127.38" stroke="#1a1a1a" stroke-width="1"/>
<line x1="485.58" y1="119.12" x2="488.19" y2="119.12" stroke="#1a1a1a" stroke-width="1"/>
<line x1="485.58" y1="127.38" x2="488.19" y2="127.38" stroke="#1a1a1a" stroke-width="1"/>
<text x="488.69" y="139.8" font-size="7.6" text-anchor="end" transform="rotate(-90 488.69 139.8)" fill="#1a1a1a" color="#1a1a1a">Sqstm1</text>
<rect x="491.8" y="118.62" width="5.4" height="18.07" fill="#efefef" stroke="#1a1a1a" stroke-width="1"/>
<line x1="494.5" y1="111.5" x2="494.5" y2="124.75" stroke="#1a1a1a" stroke-width="1"/>
<line x1="493.2" y1="111.5" x2="495.8" y2="111.5" stroke="#1a1a1a" stroke-width="1"/>
<line x1="493.2" y1="124.75" x2="495.8" y2="124.75" stroke="#1a1a1a" stroke-width="1"/>
<text x="496.3" y="139.8" font-size="7.6" text-anchor="end" transform="rotate(-90 496.3 139.8)" fill="#1a1a1a" color="#1a1a1a">Tsc1</text>
<rect x="499.41" y="126.12" width="5.4" height="10.57" fill="#efefef" stroke="#1a1a1a" stroke-width="1"/>
<line x1="502.11" y1="121.25" x2="502.11" y2="130" stroke="#1a1a1a" stroke-width="1"/>
<line x1="500.81" y1="121.25" x2="503.41" y2="121.25" stroke="#1a1a1a" stroke-width="1"/>
<line x1="500.81" y1="130" x2="503.41" y2="130" stroke="#1a1a1a" stroke-width="1"/>
<text x="503.91" y="139.8" font-size="7.6" text-anchor="end" transform="rotate(-90 503.91 139.8)" fill="#1a1a1a" color="#1a1a1a">Tsc2</text>
<rect x="507.03" y="127.75" width="5.4" height="8.95" fill="#efefef" stroke="#1a1a1a" stroke-width="1"/>
<line x1="509.73" y1="124.75" x2="509.73" y2="129.75" stroke="#1a1a1a" stroke-width="1"/>
<line x1="508.43" y1="124.75" x2="511.03" y2="124.75" stroke="#1a1a1a" stroke-width="1"/>
<line x1="508.43" y1="129.75" x2="511.03" y2="129.75" stroke="#1a1a1a" stroke-width="1"/>
<text x="511.53" y="139.8" font-size="7.6" text-anchor="end" transform="rotate(-90 511.53 139.8)" fill="#1a1a1a" color="#1a1a1a">Uvrag</text>
<line x1="28" y1="137.2" x2="515.4" y2="137.2" stroke="#222" stroke-width="1.2"/>
<line x1="29.5" y1="130.9" x2="515.4" y2="130.9" stroke="#d83a55" stroke-width="2.1" stroke-opacity="0.85"/>
<text x="2.4" y="207.2" font-size="13.9" font-weight="bold" fill="#000" color="#000">B</text>
<text x="71" y="206" font-size="9.5" text-anchor="middle" fill="#1a1a1a" color="#1a1a1a">32D/</text>
<text x="70.5" y="214.5" font-size="9.5" text-anchor="middle" fill="#1a1a1a" color="#1a1a1a">BCR-ABL</text>
<text x="47.5" y="238.75" font-size="9.5" text-anchor="end" fill="#1a1a1a" color="#1a1a1a">shRNA:</text>
<text x="59.2" y="239.6" font-size="9.6" transform="rotate(-45 59.2 239.6)" fill="#1a1a1a" color="#1a1a1a">NS</text>
<text x="80.8" y="240.2" font-size="9.8" transform="rotate(-45 80.8 240.2)" fill="#1a1a1a" color="#1a1a1a">ATF5</text>
<rect x="50.9" y="242.2" width="40" height="19.6" fill="#fafafa" stroke="#1a1a1a" stroke-width="1"/>
<rect x="50.9" y="265.3" width="40" height="19.6" fill="#fafafa" stroke="#1a1a1a" stroke-width="1"/>
<rect x="50.9" y="287.5" width="40" height="20" fill="#fafafa" stroke="#1a1a1a" stroke-width="1"/>
<rect x="51.5" y="250" width="18.5" height="5" rx="2" fill="#0a0a0a" filter="url(#bl)"/>
<rect x="74" y="251.6" width="15.5" height="2.8" rx="1.12" fill="url(#g0)" filter="url(#bl)"/>
<rect x="51.5" y="273.8" width="18" height="4.2" rx="1.68" fill="#1a1a1a" filter="url(#bl)"/>
<rect x="74" y="274.7" width="15.5" height="3" rx="1.2" fill="url(#g1)" filter="url(#bl)"/>
<rect x="51" y="294.7" width="20.6" height="5.8" rx="2.32" fill="#0a0a0a" filter="url(#bl)"/>
<rect x="72.2" y="294.7" width="18.3" height="5.8" rx="2.32" fill="#0a0a0a" filter="url(#bl)"/>
<text x="47.7" y="255.2" font-size="9.5" text-anchor="end" fill="#1a1a1a" color="#1a1a1a">mTOR</text>
<text x="47.7" y="277.7" font-size="9.5" text-anchor="end" fill="#1a1a1a" color="#1a1a1a">-mTOR</text>
<circle cx="10.9" cy="274.3" r="4.3" fill="none" stroke="#1a1a1a" stroke-width="1"/>
<text x="11.1" y="277.4" font-size="8.6" text-anchor="middle" fill="#1a1a1a" color="#1a1a1a">P</text>
<text x="47.7" y="300.3" font-size="9.5" text-anchor="end" fill="#1a1a1a" color="#1a1a1a">ACTB</text>
<text x="107" y="206.7" font-size="13.9" font-weight="bold" fill="#000" color="#000">C</text>
<text x="177" y="214" font-size="9.5" text-anchor="middle" fill="#1a1a1a" color="#1a1a1a">K562</text>
<line x1="155" y1="225.36" x2="155" y2="326.8" stroke="#222" stroke-width="1"/>
<line x1="152" y1="326.3" x2="155" y2="326.3" stroke="#222" stroke-width="1"/>
<text x="149.2" y="329.5" font-size="9.5" text-anchor="end" fill="#1a1a1a" color="#1a1a1a">0</text>
<line x1="152" y1="311.88" x2="155" y2="311.88" stroke="#222" stroke-width="1"/>
<text x="149.2" y="315.08" font-size="9.5" text-anchor="end" fill="#1a1a1a" color="#1a1a1a">0.2</text>
<line x1="152" y1="297.46" x2="155" y2="297.46" stroke="#222" stroke-width="1"/>
<text x="149.2" y="300.66" font-size="9.5" text-anchor="end" fill="#1a1a1a" color="#1a1a1a">0.4</text>
<line x1="152" y1="283.04" x2="155" y2="283.04" stroke="#222" stroke-width="1"/>
<text x="149.2" y="286.24" font-size="9.5" text-anchor="end" fill="#1a1a1a" color="#1a1a1a">0.6</text>
<line x1="152" y1="268.62" x2="155" y2="268.62" stroke="#222" stroke-width="1"/>
<text x="149.2" y="271.82" font-size="9.5" text-anchor="end" fill="#1a1a1a" color="#1a1a1a">0.8</text>
<line x1="152" y1="254.2" x2="155" y2="254.2" stroke="#222" stroke-width="1"/>
<text x="149.2" y="257.4" font-size="9.5" text-anchor="end" fill="#1a1a1a" color="#1a1a1a">1.0</text>
<line x1="152" y1="239.78" x2="155" y2="239.78" stroke="#222" stroke-width="1"/>
<text x="149.2" y="242.98" font-size="9.5" text-anchor="end" fill="#1a1a1a" color="#1a1a1a">1.2</text>
<line x1="152" y1="225.36" x2="155" y2="225.36" stroke="#222" stroke-width="1"/>
<text x="149.2" y="228.56" font-size="9.5" text-anchor="end" fill="#1a1a1a" color="#1a1a1a">1.4</text>
<rect x="158.6" y="253.98" width="11.1" height="71.82" fill="#d6d6d6" stroke="#1a1a1a" stroke-width="1"/>
<line x1="164.15" y1="241.58" x2="164.15" y2="265.38" stroke="#1a1a1a" stroke-width="1"/>
<line x1="161.9" y1="241.58" x2="166.4" y2="241.58" stroke="#1a1a1a" stroke-width="1"/>
<line x1="161.9" y1="265.38" x2="166.4" y2="265.38" stroke="#1a1a1a" stroke-width="1"/>
<rect x="172.8" y="291.47" width="10.3" height="34.33" fill="#d6d6d6" stroke="#1a1a1a" stroke-width="1"/>
<line x1="177.95" y1="288.45" x2="177.95" y2="293.49" stroke="#1a1a1a" stroke-width="1"/>
<line x1="175.7" y1="288.45" x2="180.2" y2="288.45" stroke="#1a1a1a" stroke-width="1"/>
<line x1="175.7" y1="293.49" x2="180.2" y2="293.49" stroke="#1a1a1a" stroke-width="1"/>
<text x="177.6" y="287.7" font-size="11" text-anchor="middle" fill="#1a1a1a" color="#1a1a1a">*</text>
<line x1="155" y1="326.3" x2="187.7" y2="326.3" stroke="#222" stroke-width="1.2"/>
<text x="0" y="0" font-size="9.5" text-anchor="middle" fill="#1a1a1a" transform="translate(127.2 275.5) rotate(-90)">Relative <tspan font-style="italic">mTOR</tspan> expression</text>
<text x="147.1" y="343.8" font-size="9.5" text-anchor="end" fill="#1a1a1a" color="#1a1a1a">shRNA:</text>
<text x="158" y="344.8" font-size="9.5" transform="rotate(-45 158 344.8)" fill="#1a1a1a" color="#1a1a1a">NS</text>
<text x="166.5" y="350.5" font-size="9.5" transform="rotate(-45 166.5 350.5)" fill="#1a1a1a" color="#1a1a1a">ATF5</text>
<text x="262" y="214.2" font-size="9.5" text-anchor="middle" fill="#1a1a1a" color="#1a1a1a">K562</text>
<text x="239.2" y="238.3" font-size="9.5" text-anchor="end" fill="#1a1a1a" color="#1a1a1a">shRNA:</text>
<text x="251" y="240" font-size="9.5" transform="rotate(-45 251 240)" fill="#1a1a1a" color="#1a1a1a">NS</text>
<text x="272" y="240" font-size="9.5" transform="rotate(-45 272 240)" fill="#1a1a1a" color="#1a1a1a">ATF5</text>
<rect x="241.7" y="242.3" width="40.5" height="19.5" fill="#fafafa" stroke="#1a1a1a" stroke-width="1"/>
<rect x="241.7" y="264.7" width="40.5" height="19.6" fill="#fafafa" stroke="#1a1a1a" stroke-width="1"/>
<rect x="241.7" y="287.1" width="40.5" height="20.5" fill="#fafafa" stroke="#1a1a1a" stroke-width="1"/>
<rect x="241.7" y="249.7" width="20.8" height="6" rx="2.4" fill="#050505" filter="url(#bl)"/>
<rect x="264.8" y="251.5" width="17.2" height="3" rx="1.2" fill="#111" filter="url(#bl)"/>
<rect x="243" y="273.7" width="16.6" height="2.6" rx="1.04" fill="#2a2a2a" filter="url(#bl)"/>
<rect x="264" y="274.2" width="16.5" height="2.4" rx="0.96" fill="url(#g2)" filter="url(#bl)"/>
<rect x="265" y="267" width="15" height="6" fill="#e6e6e6" filter="url(#bl2)"/>
<rect x="242.4" y="295.95" width="17.4" height="4.3" rx="1.72" fill="#0a0a0a" filter="url(#bl)"/>
<rect x="262.2" y="295.7" width="19.2" height="4.8" rx="1.92" fill="#0a0a0a" filter="url(#bl)"/>
<text x="239.2" y="255.6" font-size="9.5" text-anchor="end" fill="#1a1a1a" color="#1a1a1a">mTOR</text>
<text x="239.2" y="278" font-size="9.5" text-anchor="end" fill="#1a1a1a" color="#1a1a1a">-mTOR</text>
<circle cx="202.4" cy="274.6" r="4.3" fill="none" stroke="#1a1a1a" stroke-width="1"/>
<text x="202.6" y="277.7" font-size="8.6" text-anchor="middle" fill="#1a1a1a" color="#1a1a1a">P</text>
<text x="239.2" y="300.6" font-size="9.5" text-anchor="end" fill="#1a1a1a" color="#1a1a1a">ACTB</text>
<text x="300.6" y="207" font-size="13.9" font-weight="bold" fill="#000" color="#000">D</text>
<text x="421.5" y="214.3" font-size="9.5" text-anchor="middle" fill="#1a1a1a" color="#1a1a1a">32D/BCR-ABL</text>
<line x1="333.4" y1="224.1" x2="333.4" y2="326.3" stroke="#222" stroke-width="1"/>
<line x1="330.4" y1="325.8" x2="333.4" y2="325.8" stroke="#222" stroke-width="1"/>
<text x="328" y="329" font-size="9.5" text-anchor="end" fill="#1a1a1a" color="#1a1a1a">0</text>
<line x1="330.4" y1="314.5" x2="333.4" y2="314.5" stroke="#222" stroke-width="1"/>
<text x="328" y="317.7" font-size="9.5" text-anchor="end" fill="#1a1a1a" color="#1a1a1a">1</text>
<line x1="330.4" y1="303.2" x2="333.4" y2="303.2" stroke="#222" stroke-width="1"/>
<text x="328" y="306.4" font-size="9.5" text-anchor="end" fill="#1a1a1a" color="#1a1a1a">2</text>
<line x1="330.4" y1="291.9" x2="333.4" y2="291.9" stroke="#222" stroke-width="1"/>
<text x="328" y="295.1" font-size="9.5" text-anchor="end" fill="#1a1a1a" color="#1a1a1a">3</text>
<line x1="330.4" y1="280.6" x2="333.4" y2="280.6" stroke="#222" stroke-width="1"/>
<text x="328" y="283.8" font-size="9.5" text-anchor="end" fill="#1a1a1a" color="#1a1a1a">4</text>
<line x1="330.4" y1="269.3" x2="333.4" y2="269.3" stroke="#222" stroke-width="1"/>
<text x="328" y="272.5" font-size="9.5" text-anchor="end" fill="#1a1a1a" color="#1a1a1a">5</text>
<line x1="330.4" y1="258" x2="333.4" y2="258" stroke="#222" stroke-width="1"/>
<text x="328" y="261.2" font-size="9.5" text-anchor="end" fill="#1a1a1a" color="#1a1a1a">6</text>
<line x1="330.4" y1="246.7" x2="333.4" y2="246.7" stroke="#222" stroke-width="1"/>
<text x="328" y="249.9" font-size="9.5" text-anchor="end" fill="#1a1a1a" color="#1a1a1a">7</text>
<line x1="330.4" y1="235.4" x2="333.4" y2="235.4" stroke="#222" stroke-width="1"/>
<text x="328" y="238.6" font-size="9.5" text-anchor="end" fill="#1a1a1a" color="#1a1a1a">8</text>
<line x1="330.4" y1="224.1" x2="333.4" y2="224.1" stroke="#222" stroke-width="1"/>
<text x="328" y="227.3" font-size="9.5" text-anchor="end" fill="#1a1a1a" color="#1a1a1a">9</text>
<text x="313.3" y="271.5" font-size="9.5" text-anchor="middle" transform="rotate(-90 313.3 271.5)" fill="#1a1a1a" color="#1a1a1a">Fold enrichment</text>
<rect x="337.4" y="314.32" width="10" height="10.98" fill="#fff" stroke="#1a1a1a" stroke-width="1"/>
<line x1="342.4" y1="312.13" x2="342.4" y2="315.52" stroke="#1a1a1a" stroke-width="1"/>
<line x1="340.15" y1="312.13" x2="344.65" y2="312.13" stroke="#1a1a1a" stroke-width="1"/>
<line x1="340.15" y1="315.52" x2="344.65" y2="315.52" stroke="#1a1a1a" stroke-width="1"/>
<rect x="350.8" y="313.87" width="10" height="11.43" fill="#d6d6d6" stroke="#1a1a1a" stroke-width="1"/>
<line x1="355.8" y1="312.47" x2="355.8" y2="314.27" stroke="#1a1a1a" stroke-width="1"/>
<line x1="353.55" y1="312.47" x2="358.05" y2="312.47" stroke="#1a1a1a" stroke-width="1"/>
<line x1="353.55" y1="314.27" x2="358.05" y2="314.27" stroke="#1a1a1a" stroke-width="1"/>
<polyline points="336.9,329 336.9,331.5 361.3,331.5 361.3,329" fill="none" stroke="#222" stroke-width="1"/>
<text x="349.1" y="341.5" font-size="9.5" text-anchor="middle" fill="#1a1a1a" color="#1a1a1a">163-</text>
<text x="349.1" y="352" font-size="9.5" text-anchor="middle" fill="#1a1a1a" color="#1a1a1a">265</text>
<rect x="367.25" y="310.93" width="10" height="14.37" fill="#fff" stroke="#1a1a1a" stroke-width="1"/>
<line x1="372.25" y1="309.3" x2="372.25" y2="311.56" stroke="#1a1a1a" stroke-width="1"/>
<line x1="370" y1="309.3" x2="374.5" y2="309.3" stroke="#1a1a1a" stroke-width="1"/>
<line x1="370" y1="311.56" x2="374.5" y2="311.56" stroke="#1a1a1a" stroke-width="1"/>
<rect x="380.65" y="314.44" width="10" height="10.87" fill="#d6d6d6" stroke="#1a1a1a" stroke-width="1"/>
<line x1="385.65" y1="313.48" x2="385.65" y2="314.39" stroke="#1a1a1a" stroke-width="1"/>
<line x1="383.4" y1="313.48" x2="387.9" y2="313.48" stroke="#1a1a1a" stroke-width="1"/>
<line x1="383.4" y1="314.39" x2="387.9" y2="314.39" stroke="#1a1a1a" stroke-width="1"/>
<text x="372.25" y="309" font-size="11" text-anchor="middle" fill="#1a1a1a" color="#1a1a1a">**</text>
<polyline points="366.75,329 366.75,331.5 391.15,331.5 391.15,329" fill="none" stroke="#222" stroke-width="1"/>
<text x="378.95" y="341.5" font-size="9.5" text-anchor="middle" fill="#1a1a1a" color="#1a1a1a">490-</text>
<text x="378.95" y="352" font-size="9.5" text-anchor="middle" fill="#1a1a1a" color="#1a1a1a">567</text>
<rect x="397.1" y="313.64" width="10" height="11.66" fill="#fff" stroke="#1a1a1a" stroke-width="1"/>
<line x1="402.1" y1="312.69" x2="402.1" y2="313.6" stroke="#1a1a1a" stroke-width="1"/>
<line x1="399.85" y1="312.69" x2="404.35" y2="312.69" stroke="#1a1a1a" stroke-width="1"/>
<line x1="399.85" y1="313.6" x2="404.35" y2="313.6" stroke="#1a1a1a" stroke-width="1"/>
<rect x="410.5" y="312.51" width="10" height="12.79" fill="#d6d6d6" stroke="#1a1a1a" stroke-width="1"/>
<line x1="415.5" y1="309.75" x2="415.5" y2="314.27" stroke="#1a1a1a" stroke-width="1"/>
<line x1="413.25" y1="309.75" x2="417.75" y2="309.75" stroke="#1a1a1a" stroke-width="1"/>
<line x1="413.25" y1="314.27" x2="417.75" y2="314.27" stroke="#1a1a1a" stroke-width="1"/>
<text x="402.1" y="312.39" font-size="11" text-anchor="middle" fill="#1a1a1a" color="#1a1a1a">**</text>
<polyline points="396.6,329 396.6,331.5 421,331.5 421,329" fill="none" stroke="#222" stroke-width="1"/>
<text x="408.8" y="341.5" font-size="9.5" text-anchor="middle" fill="#1a1a1a" color="#1a1a1a">908-</text>
<text x="408.8" y="352" font-size="9.5" text-anchor="middle" fill="#1a1a1a" color="#1a1a1a">1003</text>
<rect x="426.95" y="256.24" width="10" height="69.06" fill="#fff" stroke="#1a1a1a" stroke-width="1"/>
<line x1="431.95" y1="235.4" x2="431.95" y2="276.08" stroke="#1a1a1a" stroke-width="1"/>
<line x1="429.7" y1="235.4" x2="434.2" y2="235.4" stroke="#1a1a1a" stroke-width="1"/>
<line x1="429.7" y1="276.08" x2="434.2" y2="276.08" stroke="#1a1a1a" stroke-width="1"/>
<rect x="440.35" y="312.51" width="10" height="12.79" fill="#d6d6d6" stroke="#1a1a1a" stroke-width="1"/>
<line x1="445.35" y1="311.11" x2="445.35" y2="312.92" stroke="#1a1a1a" stroke-width="1"/>
<line x1="443.1" y1="311.11" x2="447.6" y2="311.11" stroke="#1a1a1a" stroke-width="1"/>
<line x1="443.1" y1="312.92" x2="447.6" y2="312.92" stroke="#1a1a1a" stroke-width="1"/>
<text x="431.95" y="235.1" font-size="11" text-anchor="middle" fill="#1a1a1a" color="#1a1a1a">*</text>
<polyline points="426.45,329 426.45,331.5 450.85,331.5 450.85,329" fill="none" stroke="#222" stroke-width="1"/>
<text x="438.65" y="341.5" font-size="9.5" text-anchor="middle" fill="#1a1a1a" color="#1a1a1a">1560-</text>
<text x="438.65" y="352" font-size="9.5" text-anchor="middle" fill="#1a1a1a" color="#1a1a1a">1666</text>
<rect x="456.8" y="260.99" width="10" height="64.31" fill="#fff" stroke="#1a1a1a" stroke-width="1"/>
<line x1="461.8" y1="239.02" x2="461.8" y2="281.96" stroke="#1a1a1a" stroke-width="1"/>
<line x1="459.55" y1="239.02" x2="464.05" y2="239.02" stroke="#1a1a1a" stroke-width="1"/>
<line x1="459.55" y1="281.96" x2="464.05" y2="281.96" stroke="#1a1a1a" stroke-width="1"/>
<rect x="470.2" y="316.69" width="10" height="8.61" fill="#d6d6d6" stroke="#1a1a1a" stroke-width="1"/>
<line x1="475.2" y1="315.74" x2="475.2" y2="316.65" stroke="#1a1a1a" stroke-width="1"/>
<line x1="472.95" y1="315.74" x2="477.45" y2="315.74" stroke="#1a1a1a" stroke-width="1"/>
<line x1="472.95" y1="316.65" x2="477.45" y2="316.65" stroke="#1a1a1a" stroke-width="1"/>
<text x="461.8" y="238.72" font-size="11" text-anchor="middle" fill="#1a1a1a" color="#1a1a1a">*</text>
<polyline points="456.3,329 456.3,331.5 480.7,331.5 480.7,329" fill="none" stroke="#222" stroke-width="1"/>
<text x="468.5" y="341.5" font-size="9.5" text-anchor="middle" fill="#1a1a1a" color="#1a1a1a">2124-</text>
<text x="468.5" y="352" font-size="9.5" text-anchor="middle" fill="#1a1a1a" color="#1a1a1a">2227</text>
<rect x="486.65" y="313.64" width="10" height="11.66" fill="#fff" stroke="#1a1a1a" stroke-width="1"/>
<line x1="491.65" y1="311.79" x2="491.65" y2="314.5" stroke="#1a1a1a" stroke-width="1"/>
<line x1="489.4" y1="311.79" x2="493.9" y2="311.79" stroke="#1a1a1a" stroke-width="1"/>
<line x1="489.4" y1="314.5" x2="493.9" y2="314.5" stroke="#1a1a1a" stroke-width="1"/>
<rect x="500.05" y="315" width="10" height="10.3" fill="#d6d6d6" stroke="#1a1a1a" stroke-width="1"/>
<line x1="505.05" y1="313.82" x2="505.05" y2="315.18" stroke="#1a1a1a" stroke-width="1"/>
<line x1="502.8" y1="313.82" x2="507.3" y2="313.82" stroke="#1a1a1a" stroke-width="1"/>
<line x1="502.8" y1="315.18" x2="507.3" y2="315.18" stroke="#1a1a1a" stroke-width="1"/>
<text x="491.65" y="311.49" font-size="11" text-anchor="middle" fill="#1a1a1a" color="#1a1a1a">**</text>
<polyline points="486.15,329 486.15,331.5 510.55,331.5 510.55,329" fill="none" stroke="#222" stroke-width="1"/>
<text x="498.35" y="341.5" font-size="9.5" text-anchor="middle" fill="#1a1a1a" color="#1a1a1a">2597-</text>
<text x="498.35" y="352" font-size="9.5" text-anchor="middle" fill="#1a1a1a" color="#1a1a1a">2693</text>
<line x1="333.4" y1="325.8" x2="514.2" y2="325.8" stroke="#222" stroke-width="1.2"/>
<text x="327.7" y="341.5" font-size="9.5" text-anchor="end" fill="#1a1a1a" color="#1a1a1a">bp:</text>
<rect x="490.5" y="245.5" width="4.8" height="4.8" fill="#fff" stroke="#1a1a1a" stroke-width="1"/>
<text x="499.7" y="250.8" font-size="9.5" fill="#1a1a1a" color="#1a1a1a">- IM</text>
<rect x="490.5" y="255.9" width="4.8" height="4.8" fill="#d6d6d6" stroke="#1a1a1a" stroke-width="1"/>
<text x="499.7" y="261.2" font-size="9.5" fill="#1a1a1a" color="#1a1a1a">+ IM</text>
<text x="2.6" y="366.8" font-size="13.9" font-weight="bold" fill="#000" color="#000">E</text>
<text x="84.5" y="362.8" font-size="9.5" text-anchor="middle" fill="#1a1a1a" color="#1a1a1a">32D/BCR-ABL</text>
<line x1="50.3" y1="382.71" x2="50.3" y2="484.5" stroke="#222" stroke-width="1"/>
<line x1="47.3" y1="484" x2="50.3" y2="484" stroke="#222" stroke-width="1"/>
<text x="44.4" y="487.2" font-size="9.5" text-anchor="end" fill="#1a1a1a" color="#1a1a1a">0</text>
<line x1="47.3" y1="469.53" x2="50.3" y2="469.53" stroke="#222" stroke-width="1"/>
<text x="44.4" y="472.73" font-size="9.5" text-anchor="end" fill="#1a1a1a" color="#1a1a1a">100</text>
<line x1="47.3" y1="455.06" x2="50.3" y2="455.06" stroke="#222" stroke-width="1"/>
<text x="44.4" y="458.26" font-size="9.5" text-anchor="end" fill="#1a1a1a" color="#1a1a1a">200</text>
<line x1="47.3" y1="440.59" x2="50.3" y2="440.59" stroke="#222" stroke-width="1"/>
<text x="44.4" y="443.79" font-size="9.5" text-anchor="end" fill="#1a1a1a" color="#1a1a1a">300</text>
<line x1="47.3" y1="426.12" x2="50.3" y2="426.12" stroke="#222" stroke-width="1"/>
<text x="44.4" y="429.32" font-size="9.5" text-anchor="end" fill="#1a1a1a" color="#1a1a1a">400</text>
<line x1="47.3" y1="411.65" x2="50.3" y2="411.65" stroke="#222" stroke-width="1"/>
<text x="44.4" y="414.85" font-size="9.5" text-anchor="end" fill="#1a1a1a" color="#1a1a1a">500</text>
<line x1="47.3" y1="397.18" x2="50.3" y2="397.18" stroke="#222" stroke-width="1"/>
<text x="44.4" y="400.38" font-size="9.5" text-anchor="end" fill="#1a1a1a" color="#1a1a1a">600</text>
<line x1="47.3" y1="382.71" x2="50.3" y2="382.71" stroke="#222" stroke-width="1"/>
<text x="44.4" y="385.91" font-size="9.5" text-anchor="end" fill="#1a1a1a" color="#1a1a1a">700</text>
<rect x="53.9" y="483.71" width="10" height="-0.21" fill="#d6d6d6" stroke="#1a1a1a" stroke-width="1"/>
<text x="61.9" y="489" font-size="9.5" text-anchor="end" transform="rotate(-45 61.9 489)" fill="#1a1a1a" color="#1a1a1a">Empty vector</text>
<rect x="67.35" y="481.11" width="10" height="2.39" fill="#d6d6d6" stroke="#1a1a1a" stroke-width="1"/>
<text x="77.6" y="489" font-size="9.5" text-anchor="end" transform="rotate(-45 77.6 489)" fill="#1a1a1a" color="#1a1a1a">539 bp</text>
<rect x="80.8" y="479.66" width="10" height="3.84" fill="#d6d6d6" stroke="#1a1a1a" stroke-width="1"/>
<text x="91.1" y="489" font-size="9.5" text-anchor="end" transform="rotate(-45 91.1 489)" fill="#1a1a1a" color="#1a1a1a">1010 bp</text>
<rect x="94.25" y="418.88" width="10" height="64.61" fill="#d6d6d6" stroke="#1a1a1a" stroke-width="1"/>
<line x1="99.25" y1="417.15" x2="99.25" y2="420.62" stroke="#1a1a1a" stroke-width="1"/>
<line x1="97" y1="417.15" x2="101.5" y2="417.15" stroke="#1a1a1a" stroke-width="1"/>
<line x1="97" y1="420.62" x2="101.5" y2="420.62" stroke="#1a1a1a" stroke-width="1"/>
<text x="104.5" y="489" font-size="9.5" text-anchor="end" transform="rotate(-45 104.5 489)" fill="#1a1a1a" color="#1a1a1a">2017 bp</text>
<rect x="107.7" y="387.34" width="10" height="96.16" fill="#d6d6d6" stroke="#1a1a1a" stroke-width="1"/>
<line x1="112.7" y1="385.89" x2="112.7" y2="388.79" stroke="#1a1a1a" stroke-width="1"/>
<line x1="110.45" y1="385.89" x2="114.95" y2="385.89" stroke="#1a1a1a" stroke-width="1"/>
<line x1="110.45" y1="388.79" x2="114.95" y2="388.79" stroke="#1a1a1a" stroke-width="1"/>
<text x="117" y="489" font-size="9.5" text-anchor="end" transform="rotate(-45 117 489)" fill="#1a1a1a" color="#1a1a1a">3007 bp</text>
<line x1="50.3" y1="484" x2="122.8" y2="484" stroke="#222" stroke-width="1.2"/>
<polyline points="85.8,477 85.8,408.6 99.7,408.6 99.7,412.2" fill="none" stroke="#222" stroke-width="1"/>
<polyline points="85.8,408.6 85.8,376.5 113,376.5 113,380.7" fill="none" stroke="#222" stroke-width="1"/>
<text x="93.6" y="407.7" font-size="11" text-anchor="middle" fill="#1a1a1a" color="#1a1a1a">*</text>
<text x="99.7" y="376" font-size="11" text-anchor="middle" fill="#1a1a1a" color="#1a1a1a">*</text>
<text x="9.4" y="433.2" font-size="9.5" text-anchor="middle" transform="rotate(-90 9.4 433.2)" fill="#1a1a1a" color="#1a1a1a">Relative luciferase</text>
<text x="18.5" y="432.6" font-size="9.5" text-anchor="middle" transform="rotate(-90 18.5 432.6)" fill="#1a1a1a" color="#1a1a1a">activity</text>
<text x="134.3" y="366.2" font-size="13.9" font-weight="bold" fill="#000" color="#000">F</text>
<text x="218.5" y="370" font-size="9.5" text-anchor="middle" fill="#1a1a1a" color="#1a1a1a">32D/BCR-ABL</text>
<line x1="183" y1="382.15" x2="183" y2="484.8" stroke="#222" stroke-width="1"/>
<line x1="179.5" y1="484.3" x2="183" y2="484.3" stroke="#222" stroke-width="1"/>
<text x="177.2" y="487.5" font-size="9.5" text-anchor="end" fill="#1a1a1a" color="#1a1a1a">0</text>
<line x1="179.5" y1="472.95" x2="183" y2="472.95" stroke="#222" stroke-width="1"/>
<text x="177.2" y="476.15" font-size="9.5" text-anchor="end" fill="#1a1a1a" color="#1a1a1a">200</text>
<line x1="179.5" y1="461.6" x2="183" y2="461.6" stroke="#222" stroke-width="1"/>
<text x="177.2" y="464.8" font-size="9.5" text-anchor="end" fill="#1a1a1a" color="#1a1a1a">400</text>
<line x1="179.5" y1="450.25" x2="183" y2="450.25" stroke="#222" stroke-width="1"/>
<text x="177.2" y="453.45" font-size="9.5" text-anchor="end" fill="#1a1a1a" color="#1a1a1a">600</text>
<line x1="179.5" y1="438.9" x2="183" y2="438.9" stroke="#222" stroke-width="1"/>
<text x="177.2" y="442.1" font-size="9.5" text-anchor="end" fill="#1a1a1a" color="#1a1a1a">800</text>
<line x1="179.5" y1="427.55" x2="183" y2="427.55" stroke="#222" stroke-width="1"/>
<text x="177.2" y="430.75" font-size="9.5" text-anchor="end" fill="#1a1a1a" color="#1a1a1a">1000</text>
<line x1="179.5" y1="416.2" x2="183" y2="416.2" stroke="#222" stroke-width="1"/>
<text x="177.2" y="419.4" font-size="9.5" text-anchor="end" fill="#1a1a1a" color="#1a1a1a">1200</text>
<line x1="179.5" y1="404.85" x2="183" y2="404.85" stroke="#222" stroke-width="1"/>
<text x="177.2" y="408.05" font-size="9.5" text-anchor="end" fill="#1a1a1a" color="#1a1a1a">1400</text>
<line x1="179.5" y1="393.5" x2="183" y2="393.5" stroke="#222" stroke-width="1"/>
<text x="177.2" y="396.7" font-size="9.5" text-anchor="end" fill="#1a1a1a" color="#1a1a1a">1600</text>
<line x1="179.5" y1="382.15" x2="183" y2="382.15" stroke="#222" stroke-width="1"/>
<text x="177.2" y="385.35" font-size="9.5" text-anchor="end" fill="#1a1a1a" color="#1a1a1a">1800</text>
<rect x="186.7" y="391.16" width="10.3" height="92.64" fill="#d6d6d6" stroke="#1a1a1a" stroke-width="1"/>
<line x1="191.85" y1="384.42" x2="191.85" y2="396.91" stroke="#1a1a1a" stroke-width="1"/>
<line x1="189.6" y1="384.42" x2="194.1" y2="384.42" stroke="#1a1a1a" stroke-width="1"/>
<line x1="189.6" y1="396.91" x2="194.1" y2="396.91" stroke="#1a1a1a" stroke-width="1"/>
<line x1="189.6" y1="489.6" x2="194.4" y2="489.6" stroke="#1a1a1a" stroke-width="1.1"/>
<rect x="200.2" y="471.18" width="10.3" height="12.62" fill="#d6d6d6" stroke="#1a1a1a" stroke-width="1"/>
<line x1="205.35" y1="468.69" x2="205.35" y2="472.67" stroke="#1a1a1a" stroke-width="1"/>
<line x1="203.1" y1="468.69" x2="207.6" y2="468.69" stroke="#1a1a1a" stroke-width="1"/>
<line x1="203.1" y1="472.67" x2="207.6" y2="472.67" stroke="#1a1a1a" stroke-width="1"/>
<text x="205.35" y="468.39" font-size="11" text-anchor="middle" fill="#1a1a1a" color="#1a1a1a">*</text>
<text x="209.15" y="490.3" font-size="9.5" text-anchor="end" transform="rotate(-45 209.15 490.3)" fill="#1a1a1a" color="#1a1a1a">IM</text>
<rect x="213.7" y="438.55" width="10.3" height="45.25" fill="#d6d6d6" stroke="#1a1a1a" stroke-width="1"/>
<line x1="218.85" y1="437.59" x2="218.85" y2="438.5" stroke="#1a1a1a" stroke-width="1"/>
<line x1="216.6" y1="437.59" x2="221.1" y2="437.59" stroke="#1a1a1a" stroke-width="1"/>
<line x1="216.6" y1="438.5" x2="221.1" y2="438.5" stroke="#1a1a1a" stroke-width="1"/>
<text x="218.85" y="437.29" font-size="11" text-anchor="middle" fill="#1a1a1a" color="#1a1a1a">*</text>
<text x="222.65" y="490.3" font-size="9.5" text-anchor="end" transform="rotate(-45 222.65 490.3)" fill="#1a1a1a" color="#1a1a1a">LY294002</text>
<rect x="227.2" y="462.38" width="10.3" height="21.42" fill="#d6d6d6" stroke="#1a1a1a" stroke-width="1"/>
<line x1="232.35" y1="460.64" x2="232.35" y2="463.13" stroke="#1a1a1a" stroke-width="1"/>
<line x1="230.1" y1="460.64" x2="234.6" y2="460.64" stroke="#1a1a1a" stroke-width="1"/>
<line x1="230.1" y1="463.13" x2="234.6" y2="463.13" stroke="#1a1a1a" stroke-width="1"/>
<text x="232.35" y="460.34" font-size="11" text-anchor="middle" fill="#1a1a1a" color="#1a1a1a">*</text>
<text x="236.15" y="490.3" font-size="9.5" text-anchor="end" transform="rotate(-45 236.15 490.3)" fill="#1a1a1a" color="#1a1a1a">PHT-427</text>
<rect x="240.7" y="397.41" width="10.3" height="86.39" fill="#d6d6d6" stroke="#1a1a1a" stroke-width="1"/>
<line x1="245.85" y1="394.07" x2="245.85" y2="399.74" stroke="#1a1a1a" stroke-width="1"/>
<line x1="243.6" y1="394.07" x2="248.1" y2="394.07" stroke="#1a1a1a" stroke-width="1"/>
<line x1="243.6" y1="399.74" x2="248.1" y2="399.74" stroke="#1a1a1a" stroke-width="1"/>
<text x="245.85" y="393.77" font-size="11" text-anchor="middle" fill="#1a1a1a" color="#1a1a1a">**</text>
<text x="249.65" y="490.3" font-size="9.5" text-anchor="end" transform="rotate(-45 249.65 490.3)" fill="#1a1a1a" color="#1a1a1a">JAK inhibitor I</text>
<line x1="183" y1="484.3" x2="254" y2="484.3" stroke="#222" stroke-width="1.2"/>
<text x="141.8" y="433.2" font-size="9.5" text-anchor="middle" transform="rotate(-90 141.8 433.2)" fill="#1a1a1a" color="#1a1a1a">Relative luciferase</text>
<text x="152.2" y="432.6" font-size="9.5" text-anchor="middle" transform="rotate(-90 152.2 432.6)" fill="#1a1a1a" color="#1a1a1a">activity</text>
<text x="267.8" y="366.8" font-size="13.9" font-weight="bold" fill="#000" color="#000">G</text>
<text x="343.2" y="370.2" font-size="9.5" text-anchor="middle" fill="#1a1a1a" color="#1a1a1a">32D/BCR-ABL</text>
<line x1="310.4" y1="382.4" x2="310.4" y2="484.5" stroke="#222" stroke-width="1"/>
<line x1="307.4" y1="484" x2="310.4" y2="484" stroke="#222" stroke-width="1"/>
<text x="304.3" y="487.2" font-size="9.5" text-anchor="end" fill="#1a1a1a" color="#1a1a1a">0</text>
<line x1="307.4" y1="471.3" x2="310.4" y2="471.3" stroke="#222" stroke-width="1"/>
<text x="304.3" y="474.5" font-size="9.5" text-anchor="end" fill="#1a1a1a" color="#1a1a1a">0.2</text>
<line x1="307.4" y1="458.6" x2="310.4" y2="458.6" stroke="#222" stroke-width="1"/>
<text x="304.3" y="461.8" font-size="9.5" text-anchor="end" fill="#1a1a1a" color="#1a1a1a">0.4</text>
<line x1="307.4" y1="445.9" x2="310.4" y2="445.9" stroke="#222" stroke-width="1"/>
<text x="304.3" y="449.1" font-size="9.5" text-anchor="end" fill="#1a1a1a" color="#1a1a1a">0.6</text>
<line x1="307.4" y1="433.2" x2="310.4" y2="433.2" stroke="#222" stroke-width="1"/>
<text x="304.3" y="436.4" font-size="9.5" text-anchor="end" fill="#1a1a1a" color="#1a1a1a">0.8</text>
<line x1="307.4" y1="420.5" x2="310.4" y2="420.5" stroke="#222" stroke-width="1"/>
<text x="304.3" y="423.7" font-size="9.5" text-anchor="end" fill="#1a1a1a" color="#1a1a1a">1.0</text>
<line x1="307.4" y1="407.8" x2="310.4" y2="407.8" stroke="#222" stroke-width="1"/>
<text x="304.3" y="411" font-size="9.5" text-anchor="end" fill="#1a1a1a" color="#1a1a1a">1.2</text>
<line x1="307.4" y1="395.1" x2="310.4" y2="395.1" stroke="#222" stroke-width="1"/>
<text x="304.3" y="398.3" font-size="9.5" text-anchor="end" fill="#1a1a1a" color="#1a1a1a">1.4</text>
<line x1="307.4" y1="382.4" x2="310.4" y2="382.4" stroke="#222" stroke-width="1"/>
<text x="304.3" y="385.6" font-size="9.5" text-anchor="end" fill="#1a1a1a" color="#1a1a1a">1.6</text>
<rect x="314.5" y="420.37" width="10.5" height="63.14" fill="#fff" stroke="#1a1a1a" stroke-width="1"/>
<line x1="319.75" y1="408.75" x2="319.75" y2="430.98" stroke="#1a1a1a" stroke-width="1"/>
<line x1="317.5" y1="408.75" x2="322" y2="408.75" stroke="#1a1a1a" stroke-width="1"/>
<line x1="317.5" y1="430.98" x2="322" y2="430.98" stroke="#1a1a1a" stroke-width="1"/>
<rect x="328" y="466.08" width="10.5" height="17.41" fill="#d6d6d6" stroke="#1a1a1a" stroke-width="1"/>
<line x1="333.25" y1="450.98" x2="333.25" y2="480.19" stroke="#1a1a1a" stroke-width="1"/>
<line x1="331" y1="450.98" x2="335.5" y2="450.98" stroke="#1a1a1a" stroke-width="1"/>
<line x1="331" y1="480.19" x2="335.5" y2="480.19" stroke="#1a1a1a" stroke-width="1"/>
<text x="333.25" y="451.68" font-size="11" text-anchor="middle" fill="#1a1a1a" color="#1a1a1a">*</text>
<rect x="344.1" y="412.75" width="10.5" height="70.75" fill="#fff" stroke="#1a1a1a" stroke-width="1"/>
<line x1="349.35" y1="404.62" x2="349.35" y2="419.87" stroke="#1a1a1a" stroke-width="1"/>
<line x1="347.1" y1="404.62" x2="351.6" y2="404.62" stroke="#1a1a1a" stroke-width="1"/>
<line x1="347.1" y1="419.87" x2="351.6" y2="419.87" stroke="#1a1a1a" stroke-width="1"/>
<text x="349.35" y="405.32" font-size="11" text-anchor="middle" fill="#1a1a1a" color="#1a1a1a">**</text>
<rect x="357.7" y="417.82" width="10.5" height="65.67" fill="#d6d6d6" stroke="#1a1a1a" stroke-width="1"/>
<line x1="362.95" y1="396.37" x2="362.95" y2="438.28" stroke="#1a1a1a" stroke-width="1"/>
<line x1="360.7" y1="396.37" x2="365.2" y2="396.37" stroke="#1a1a1a" stroke-width="1"/>
<line x1="360.7" y1="438.28" x2="365.2" y2="438.28" stroke="#1a1a1a" stroke-width="1"/>
<text x="362.95" y="397.07" font-size="11" text-anchor="middle" fill="#1a1a1a" color="#1a1a1a">**</text>
<line x1="310.4" y1="484" x2="373.7" y2="484" stroke="#222" stroke-width="1.2"/>
<polyline points="314.4,487 314.4,489.4 338.8,489.4 338.8,487" fill="none" stroke="#222" stroke-width="1"/>
<polyline points="344,487 344,489.4 368.4,489.4 368.4,487" fill="none" stroke="#222" stroke-width="1"/>
<text x="303.8" y="499.3" font-size="9.5" text-anchor="end" fill="#1a1a1a" color="#1a1a1a">shRNA:</text>
<text x="326.4" y="499.3" font-size="9.5" text-anchor="middle" fill="#1a1a1a" color="#1a1a1a">NS</text>
<text x="355.9" y="499.3" font-size="9.5" text-anchor="middle" fill="#1a1a1a" color="#1a1a1a">FOXO4</text>
<text x="0" y="0" font-size="9.5" text-anchor="middle" fill="#1a1a1a" transform="translate(275.2 433.8) rotate(-90)">Relative <tspan font-style="italic">mTOR</tspan></text>
<text x="285" y="434.3" font-size="9.5" text-anchor="middle" transform="rotate(-90 285 434.3)" fill="#1a1a1a" color="#1a1a1a">expression</text>
<rect x="387" y="391" width="4.8" height="4.8" fill="#fff" stroke="#1a1a1a" stroke-width="1"/>
<text x="397.2" y="396.6" font-size="9.5" fill="#1a1a1a" color="#1a1a1a">- LY294002</text>
<rect x="387" y="402" width="4.8" height="4.8" fill="#d6d6d6" stroke="#1a1a1a" stroke-width="1"/>
<text x="397.2" y="407.4" font-size="9.5" fill="#1a1a1a" color="#1a1a1a">+LY294002</text>
</svg>
</body></html>
